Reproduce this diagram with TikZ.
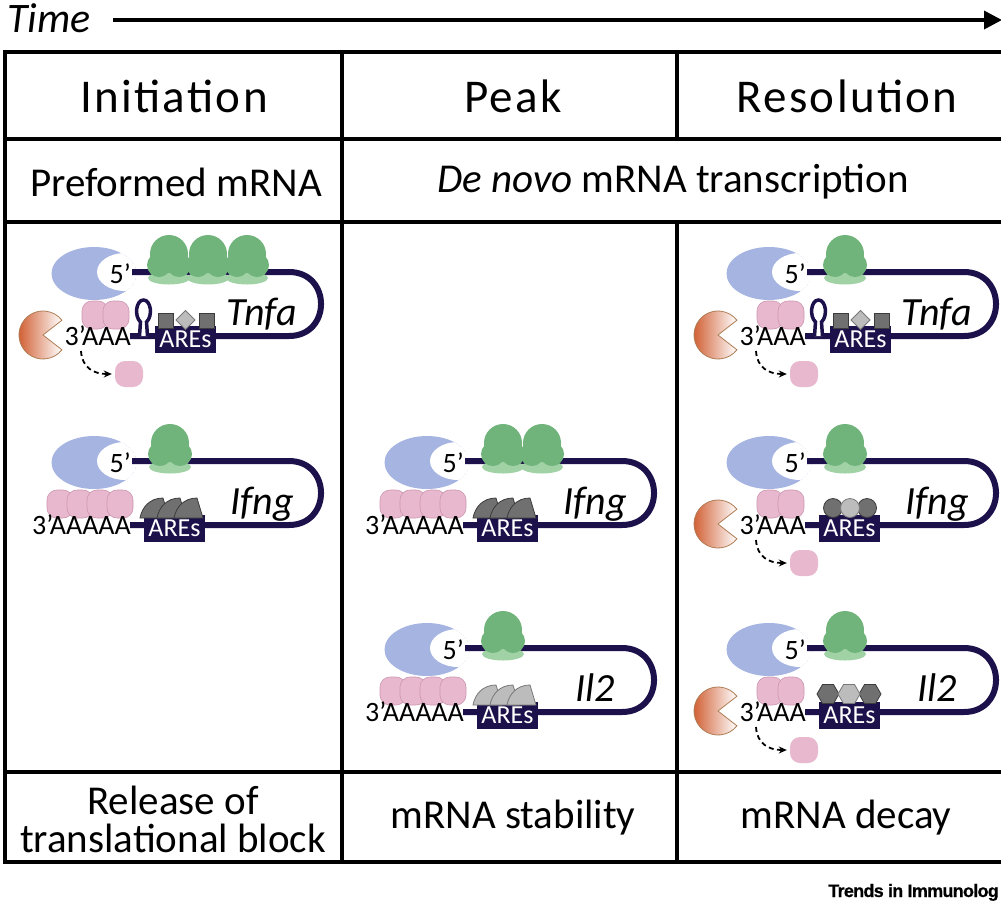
\documentclass[tikz,border=0pt]{standalone}
\usepackage{fontspec}
\setmainfont{Carlito}
\newfontfamily\trendsfont{Liberation Sans}[FakeBold=0.6, LetterSpace=-4]
\usetikzlibrary{arrows.meta}
\definecolor{navy}{RGB}{28,17,74}
\definecolor{ribogreen}{RGB}{112,180,124}
\definecolor{ribolight}{RGB}{160,210,166}
\definecolor{capblue}{RGB}{166,180,226}
\definecolor{pabpink}{RGB}{232,184,206}
\definecolor{pabedge}{RGB}{205,150,175}
\definecolor{pacorange}{RGB}{206,86,40}
\definecolor{pacbrown}{RGB}{175,125,85}
\definecolor{gdark}{RGB}{112,112,112}
\definecolor{glight}{RGB}{188,188,188}
\definecolor{gedge}{RGB}{60,60,60}
\definecolor{gedgelight}{RGB}{120,120,120}
\tikzset{
  tab/.style={line width=4pt, line cap=rect},
  rna/.style={draw=navy, line width=6pt},
  lbl/.style={font=\fontsize{28}{30}\selectfont, inner sep=0pt},
  gene/.style={font=\fontsize{40}{42}\selectfont\itshape, inner sep=0pt},
  ares/.style={fill=navy, text=white, font=\fontsize{26}{28}\selectfont, minimum width=61pt, minimum height=27pt, inner sep=0pt},
  pabp/.style={fill=pabpink, draw=pabedge, line width=0.6pt, rounded corners=10pt},
  pabpnode/.style={fill=pabpink, rounded corners=10pt, minimum width=28pt, minimum height=26pt, inner sep=0pt},
  fdark/.style={fill=gdark, draw=gedge, line width=0.8pt},
  flight/.style={fill=glight, draw=gedgelight, line width=0.8pt},
  relarrow/.style={dash pattern=on 5pt off 3.5pt, line width=1.8pt, -{Stealth[length=8pt,width=7pt]}, shorten >=3pt},
  head/.style={font=\fontsize{47}{49}\selectfont\addfontfeatures{LetterSpace=5}, inner sep=0pt},
  cell/.style={font=\fontsize{41}{38}\selectfont, inner sep=0pt, align=center},
}
% building blocks, all in local coordinates of an mRNA (5' end of the line at the origin)
\newcommand\Crescent{%
  \begin{scope}
    \clip (-38,1.5) ellipse [x radius=42.5, y radius=26.5];
    \fill[capblue] (-38,1.5) ellipse [x radius=42.5, y radius=26.5];
    \fill[white] (-7,0) ellipse [x radius=28, y radius=19];
  \end{scope}}
\newcommand\Loop{\draw[rna] (-2,64) -- (157,64) .. controls (199.7,64) and (199.7,0) .. (157,0) -- (0,0);}
\newcommand\Ribo[1]{%
  \fill[ribolight] (#1,6) ellipse [x radius=21, y radius=6.5];
  \fill[ribogreen] (#1,-18) circle [radius=19];
  \fill[ribogreen] (#1-10,-7) circle [radius=12];
  \fill[ribogreen] (#1+10,-7) circle [radius=12];
  \fill[ribogreen] (#1-14,-16) rectangle (#1+14,-6);}
\newcommand\Pab[1]{\draw[pabp] (#1,29) rectangle (#1+26,57);}
\newcommand\PabTwo{\Pab{-50}\Pab{-29}}
\newcommand\PabFour{\Pab{-85}\Pab{-65}\Pab{-45}\Pab{-25}}
\newcommand\Stem{\draw[draw=navy, line width=3.5pt, fill=white] (7.5,64) -- (8.5,50) .. controls (2,44) and (4,28) .. (11.5,28) .. controls (19,28) and (21,44) .. (14.5,50) -- (15.5,64);}
\newcommand\TnfaFactors{%
  \draw[fdark] (26,41) rectangle (41,56);
  \draw[fdark] (67,41) rectangle (82,56);
  \draw[flight] (53.5,38.5) -- (63,48) -- (53.5,57.5) -- (44,48) -- cycle;}
\newcommand\Fins[1]{\foreach \a in {8,25,42} {\draw[#1] (\a,57) .. controls (\a+2,46) and (\a+10,37) .. (\a+23,37) -- (\a+29,57) -- cycle;}}
\newcommand\Circles{%
  \draw[fdark] (26,47) circle [radius=9.5];
  \draw[fdark] (60,47) circle [radius=9.5];
  \draw[flight] (43,47) circle [radius=9.5];}
\newcommand\Hexa[2]{\draw[#2] (#1+11,46) -- (#1+5.5,36.5) -- (#1-5.5,36.5) -- (#1-11,46) -- (#1-5.5,55.5) -- (#1+5.5,55.5) -- cycle;}
\newcommand\Hexagons{\Hexa{21}{fdark}\Hexa{63}{fdark}\Hexa{42}{flight}}
\newcommand\Pacman{\shadedraw[left color=pacorange, right color=white, draw=pacbrown, line width=0.8pt] (-89,63) -- +(38:24) arc [start angle=38, end angle=322, radius=24] -- cycle;}
\newcommand\FiveP[1]{\node[lbl, anchor=east] (#1) at (-1,2) {5’};}
\newcommand\ThreeP[2]{\node[lbl, anchor=east] (#1) at (-1,64) {#2};}
\newcommand\Ares[2]{\node[ares] (#1) at (#2,67.5) {AREs};}
\newcommand\Gene[2]{\node[gene, anchor=base] (#1) at (130,53) {#2};}
\newcommand\Release[1]{%
  \node[pabpnode] (#1) at (-3,102) {};
  \coordinate (#1s) at (-51,79);
  \draw[relarrow] (#1s) .. controls (-50,96) and (-38,102) .. (#1);}
\begin{document}
\begin{tikzpicture}[x=1pt, y=-1pt]
\useasboundingbox (0,0) rectangle (1001,911);
\fill[white] (0,0) rectangle (1001,911);

% time axis
\node[font=\fontsize{42}{44}\selectfont\itshape, anchor=base west, inner sep=0pt] (time) at (7,32) {Time};
\coordinate (tstart) at (113,20);
\coordinate (tend) at (1002,20);
\draw[line width=3.5pt, -{Triangle[length=18pt,width=18pt]}] (tstart) -- (tend);

% table
\draw[tab] (5,52) -- (1001,52);
\draw[tab] (5,139) -- (1001,139);
\draw[tab] (5,222) -- (1001,222);
\draw[tab] (5,772) -- (1001,772);
\draw[tab] (5,862) -- (1001,862);
\draw[tab] (5,52) -- (5,862);
\draw[tab] (342,52) -- (342,862);
\draw[tab] (677,52) -- (677,139);
\draw[tab] (677,222) -- (677,862);

% headers
\node[head] (h1) at (174,96) {Initiation};
\node[head] (h2) at (513,96) {Peak};
\node[head] (h3) at (847,96) {Resolution};
\node[cell] (s1) at (176,182) {Preformed mRNA};
\node[cell] (s2) at (673,182) {\textit{De novo} mRNA transcription};
\node[cell] (b1) at (173,819) {Release of\\translational block};
\node[cell] (b2) at (513,818) {mRNA stability};
\node[cell] (b3) at (846,818) {mRNA decay};

% Initiation: Tnfa
\begin{scope}[shift={(132,272)}]
  \Crescent \Loop \Stem
  \Ribo{37}\Ribo{76}\Ribo{115}
  \PabTwo
  \Ares{aresA}{53.5}
  \TnfaFactors
  \Pacman
  \FiveP{fiveA}\ThreeP{threeA}{3’AAA}
  \Gene{geneA}{Tnfa}
  \Release{relA}
\end{scope}
% Initiation: Ifng
\begin{scope}[shift={(132,461)}]
  \Crescent \Loop
  \Ribo{38}
  \PabFour
  \Ares{aresB}{42.5}
  \Fins{fdark}
  \FiveP{fiveB}\ThreeP{threeB}{3’AAAAA}
  \Gene{geneB}{Ifng}
\end{scope}
% Peak: Ifng
\begin{scope}[shift={(465,461)}]
  \Crescent \Loop
  \Ribo{38}\Ribo{77}
  \PabFour
  \Ares{aresC}{42.5}
  \Fins{fdark}
  \FiveP{fiveC}\ThreeP{threeC}{3’AAAAA}
  \Gene{geneC}{Ifng}
\end{scope}
% Peak: Il2
\begin{scope}[shift={(465,648)}]
  \Crescent \Loop
  \Ribo{38}
  \PabFour
  \Ares{aresD}{42.5}
  \Fins{flight}
  \FiveP{fiveD}\ThreeP{threeD}{3’AAAAA}
  \Gene{geneD}{Il2}
\end{scope}
% Resolution: Tnfa
\begin{scope}[shift={(807,272)}]
  \Crescent \Loop \Stem
  \Ribo{38}
  \PabTwo
  \Ares{aresE}{53.5}
  \TnfaFactors
  \Pacman
  \FiveP{fiveE}\ThreeP{threeE}{3’AAA}
  \Gene{geneE}{Tnfa}
  \Release{relE}
\end{scope}
% Resolution: Ifng
\begin{scope}[shift={(807,461)}]
  \Crescent \Loop
  \Ribo{38}
  \PabTwo
  \Ares{aresF}{42.5}
  \Circles
  \Pacman
  \FiveP{fiveF}\ThreeP{threeF}{3’AAA}
  \Gene{geneF}{Ifng}
  \Release{relF}
\end{scope}
% Resolution: Il2
\begin{scope}[shift={(807,648)}]
  \Crescent \Loop
  \Ribo{38}
  \PabTwo
  \Ares{aresG}{42.5}
  \Hexagons
  \Pacman
  \FiveP{fiveG}\ThreeP{threeG}{3’AAA}
  \Gene{geneG}{Il2}
  \Release{relG}
\end{scope}

\node[font=\trendsfont\bfseries\fontsize{18}{20}\selectfont, anchor=base east, inner sep=0pt] (trends) at (999,897) {Trends in Immunolog};
\end{tikzpicture}
\end{document}
